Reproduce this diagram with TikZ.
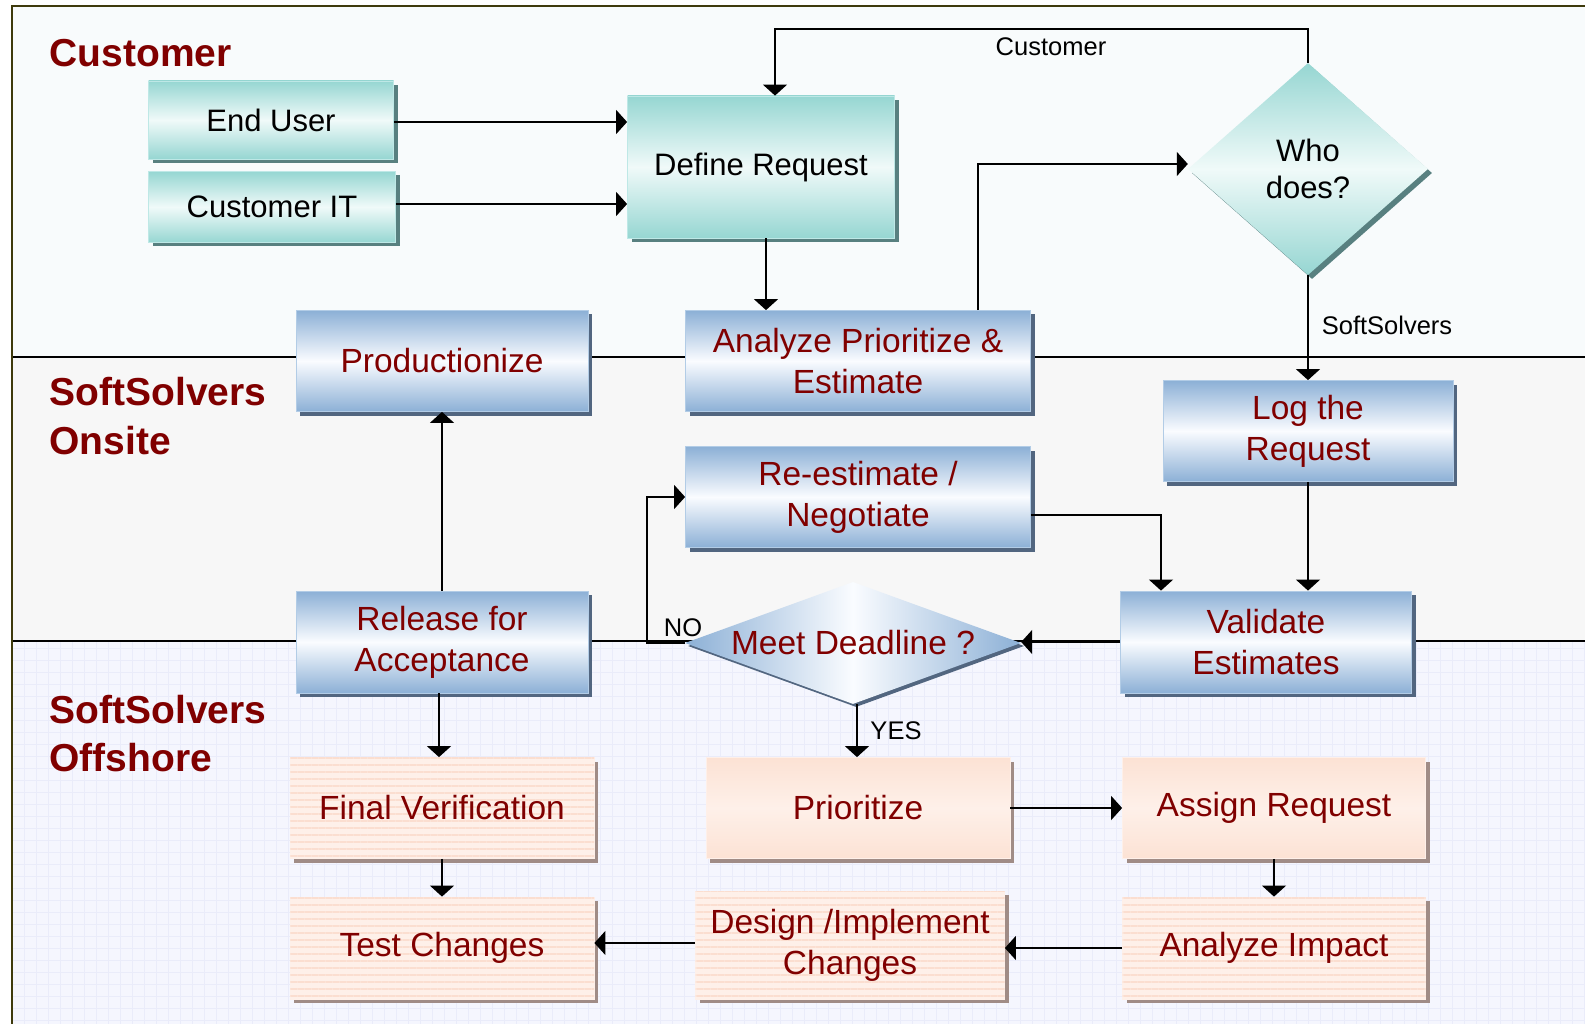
\documentclass[tikz,border=0pt]{standalone}
\usepackage{fontspec}
\setmainfont{Liberation Sans}
\usetikzlibrary{positioning,arrows.meta,shapes.geometric,shadows,patterns.meta}
\definecolor{lanered}{RGB}{128,0,0}
\definecolor{olive}{RGB}{62,58,12}
\definecolor{tealbox}{RGB}{150,214,210}
\definecolor{tealmid}{RGB}{240,250,249}
\definecolor{tealedge}{RGB}{190,232,230}
\definecolor{tealshade}{RGB}{88,128,128}
\definecolor{bluebox}{RGB}{140,176,214}
\definecolor{bluemid}{RGB}{250,252,255}
\definecolor{blueedge}{RGB}{178,204,230}
\definecolor{blueshade}{RGB}{82,102,128}
\definecolor{peachbox}{RGB}{252,226,212}
\definecolor{peachlite}{RGB}{254,240,233}
\definecolor{peachline}{RGB}{251,222,208}
\definecolor{peachshade}{RGB}{160,140,134}
\definecolor{lanecust}{RGB}{248,251,252}
\definecolor{laneon}{RGB}{247,247,247}
\definecolor{laneoff}{RGB}{245,246,254}
\definecolor{gridoff}{RGB}{234,236,250}
\newcommand{\redtxt}{\color{lanered}\fontsize{33.5}{41}\selectfont}
\tikzset{
  font=\fontsize{31}{37}\selectfont
}

\begin{document}
\begin{tikzpicture}[x=1pt,y=-1pt,
  box/.style={rectangle,inner sep=0pt,align=center},
  tealnode/.style={box,top color=tealbox,bottom color=tealbox,middle color=tealmid,draw=tealedge,line width=0.8pt,
    drop shadow={shadow xshift=4pt,shadow yshift=-4pt,fill=tealshade,opacity=1}},
  bluenode/.style={box,top color=bluebox,bottom color=bluebox,middle color=bluemid,draw=blueedge,line width=0.8pt,
    font=\redtxt,drop shadow={shadow xshift=4pt,shadow yshift=-4pt,fill=blueshade,opacity=1}},
  peachnode/.style={box,top color=peachbox,bottom color=peachbox,middle color=peachlite,draw=peachlite,line width=0.8pt,
    font=\redtxt,drop shadow={shadow xshift=4pt,shadow yshift=-4pt,fill=peachshade,opacity=1}},
  stripenode/.style={box,fill=peachlite,draw=peachlite,line width=0.8pt,font=\redtxt,
    postaction={pattern={Lines[angle=0,distance=7pt,line width=2.5pt]},pattern color=peachline},
    drop shadow={shadow xshift=4pt,shadow yshift=-4pt,fill=peachshade,opacity=1}},
  lane/.style={font=\bfseries\color{lanered}\fontsize{39}{47}\selectfont,anchor=west,align=left},
  lbl/.style={font=\fontsize{25.5}{30}\selectfont},
  flow/.style={-{Triangle[length=11pt,width=24pt]},line width=1.5pt}]
\useasboundingbox (0,0) rectangle (1585,1024);
% lanes
\fill[lanecust] (12,6) rectangle (1585,357);
\fill[laneon] (12,357) rectangle (1585,641);
\fill[laneoff] (12,641) rectangle (1585,1024);
\draw[gridoff,step=12pt,line width=0.4pt] (12,641) grid (1585,1024);
\draw[black,line width=2pt] (12,357) -- (1585,357) (12,641) -- (1585,641);
\draw[olive,line width=2.5pt] (1585,6) -- (12,6) -- (12,1024);
\node[lane] (lcust) at (46,53) {Customer};
\node[lane] (lons) at (46,416) {SoftSolvers\\[2pt]Onsite};
\node[lane] (loff) at (46,734) {SoftSolvers\\[1pt]Offshore};
% customer lane
\node[tealnode,minimum width=245pt,minimum height=78pt] (eu) at (271,120) {End User};
\node[tealnode,minimum width=247pt,minimum height=71pt] (cit) at (272,207) {Customer IT};
\node[tealnode,minimum width=267pt,minimum height=142pt] (dr) at (761,167) {Define Request};
\node[diamond,inner sep=0pt,align=center,minimum width=240pt,minimum height=212pt,
  top color=tealbox,bottom color=tealbox,middle color=tealmid,
  drop shadow={shadow xshift=4pt,shadow yshift=-4pt,fill=tealshade,opacity=1}] (wd) at (1308,169) {Who\\does?};
% onsite lane
\node[bluenode,minimum width=292pt,minimum height=101pt] (pz) at (442,361) {Productionize};
\node[bluenode,minimum width=345pt,minimum height=101pt] (ap) at (858,361) {Analyze Prioritize \&\\Estimate};
\node[bluenode,minimum width=290pt,minimum height=101pt] (lr) at (1308,431) {Log the\\Request};
\node[bluenode,minimum width=345pt,minimum height=101pt] (re) at (858,497) {Re-estimate /\\Negotiate};
\node[bluenode,minimum width=292pt,minimum height=102pt] (rl) at (442,642) {Release for\\Acceptance};
\node[bluenode,minimum width=291pt,minimum height=102pt] (ve) at (1266,642) {Validate\\Estimates};
\node[diamond,aspect=2.75,inner sep=0pt,minimum width=336pt,minimum height=122pt,font=\redtxt,
  left color=bluebox,right color=bluebox,middle color=bluemid,
  drop shadow={shadow xshift=3pt,shadow yshift=-3pt,fill=blueshade,opacity=1}] (md) at (853,643) {Meet Deadline ?};
% offshore lane
\node[stripenode,minimum width=304pt,minimum height=101pt] (fv) at (442,808) {Final Verification};
\node[peachnode,minimum width=304pt,minimum height=101pt] (pr) at (858,808) {Prioritize};
\node[peachnode,minimum width=303pt,minimum height=101pt] (ar) at (1274,808) {Assign Request};
\node[stripenode,minimum width=304pt,minimum height=102pt] (tc) at (442,948) {Test Changes};
\node[stripenode,minimum width=309pt,minimum height=108pt] (di) at (850,945) {Design /Implement\\Changes};
\node[stripenode,minimum width=303pt,minimum height=102pt] (ai) at (1274,948) {Analyze Impact};
% labels
\node[lbl] (lwc) at (1051,47) {Customer};
\node[lbl] (lws) at (1387,325) {SoftSolvers};
\node[lbl] (lno) at (683,628) {NO};
\node[lbl] (lyes) at (896,731) {YES};
% connectors
\draw[flow] ([yshift=-2pt]eu.east) -- ([yshift=-2pt]eu.east -| dr.west);
\draw[flow] ([yshift=3pt]cit.east) -- ([yshift=3pt]cit.east -| dr.west);
\draw[flow] ([xshift=5pt]dr.south) -- ([xshift=5pt]dr.south |- ap.north);
\draw[flow] ([xshift=-53pt]ap.north east) |- ([yshift=5pt]wd.west);
\draw[flow] (wd.north) -- ++(0,-34) -| ([xshift=14pt]dr.north);
\draw[flow] (wd.south) -- (lr.north);
\draw[flow] (lr.south) -- (lr.south |- ve.north);
\draw[flow] ([yshift=-18pt]re.east) -| ([xshift=-105pt]ve.north);
\draw[flow] (ve.west) -- (ve.west -| md.east);
\draw[flow] (md.west) -- ++(-38,0) |- (re.west);
\draw[flow] ([xshift=4pt]md.south) -- ([xshift=4pt]md.south |- pr.north);
\draw[flow] (rl.north) -- (pz.south);
\draw[flow] ([xshift=-3pt]rl.south) -- ([xshift=-3pt]rl.south |- fv.north);
\draw[flow] (fv.south) -- (tc.north);
\draw[flow] (pr.east) -- (pr.east -| ar.west);
\draw[flow] (ar.south) -- (ai.north);
\draw[flow] (ai.west) -- (ai.west -| di.east);
\draw[flow] ([yshift=2pt]di.west) -- ([yshift=2pt]di.west -| tc.east);
\end{tikzpicture}
\end{document}
